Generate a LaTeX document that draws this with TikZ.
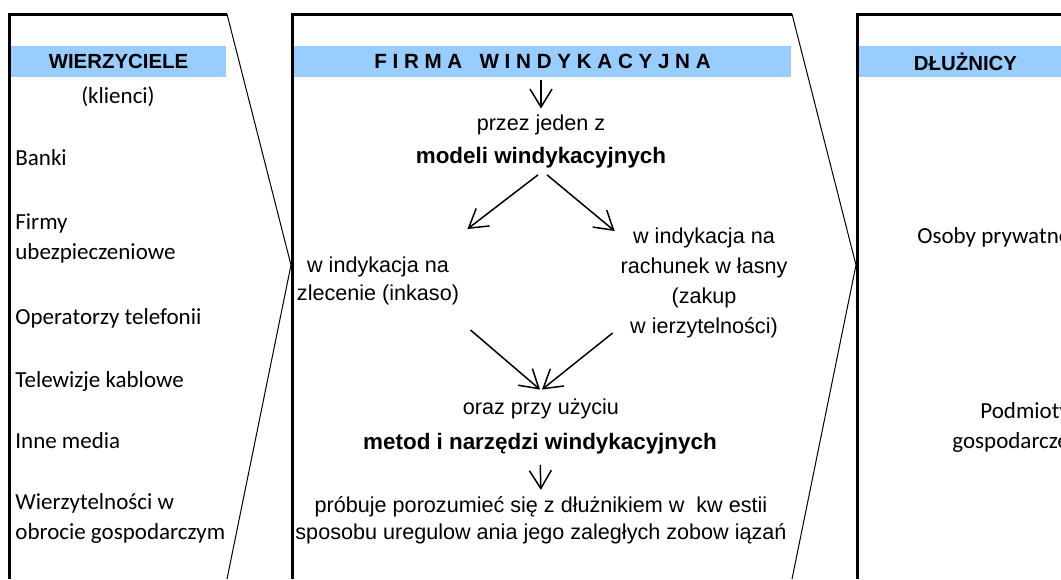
\documentclass[tikz,border=0pt]{standalone}
\usepackage{fontspec}
\setmainfont{Liberation Sans}
\newfontfamily\calibri{Carlito}
\usetikzlibrary{arrows.meta}
\definecolor{bandblue}{HTML}{99CCFF}

\tikzset{
  frame/.style={line width=1.5pt},
  chevron/.style={line width=0.5pt},
  band/.style={fill=bandblue, inner sep=0pt, minimum height=15.5pt, font=\fontsize{10.2}{12}\selectfont\bfseries},
  side/.style={anchor=west, inner sep=0pt, align=left, font=\calibri\fontsize{11.5}{15}\selectfont},
  txt/.style={inner sep=0pt, align=center, font=\fontsize{10.8}{14}\selectfont},
  boldtxt/.style={txt, font=\fontsize{11.2}{14}\selectfont\bfseries},
  arr/.style={-{Straight Barb[length=9pt,width=11pt]}, line width=0.75pt},
}

\begin{document}
\begin{tikzpicture}[x=0.5pt, y=-0.5pt]
\clip (0,0) rectangle (1061,579);

% frames and chevrons
\draw[frame] (9,579) -- (9,14) -- (227,14);
\draw[chevron] (227,14) -- (291,265) -- (227,579);
\draw[frame] (292,579) -- (292,14) -- (792,14);
\draw[chevron] (792,14) -- (856,265) -- (792,579);
\draw[frame] (857,579) -- (857,14) -- (1061,14);

% left column
\node[band, minimum width=107.5pt] (wierz) at (118.5,61.5) {WIERZYCIELE};
\node[side, anchor=center] (klienci) at (118,97) {(klienci)};
\node[side] (banki) at (15,158) {Banki};
\node[side] (firmy) at (15,238) {Firmy\\ubezpieczeniowe};
\node[side] (oper) at (15,318) {Operatorzy telefonii};
\node[side] (telew) at (15,381) {Telewizje kablowe};
\node[side] (inne) at (15,441) {Inne media};
\node[side] (wierzyt) at (15,518.5) {Wierzytelności w\\obrocie gospodarczym};

% middle column
\node[band, minimum width=248.5pt, font=\fontsize{10.3}{12}\selectfont\bfseries] (firma) at (542.5,61.5) {F I R M A\ \ \ W I N D Y K A C Y J N A};
\node[txt] (przez) at (541,125) {przez jeden z};
\node[boldtxt] (modeli) at (541,158) {modeli windykacyjnych};
\node[txt] (zlec) at (378,281) {w indykacja na\\zlecenie (inkaso)};
\node[txt, font=\fontsize{10.8}{15}\selectfont] (rach) at (704,283) {w indykacja na\\rachunek w łasny\\(zakup\\w ierzytelności)};
\node[txt] (oraz) at (541,409) {oraz przy użyciu};
\node[boldtxt] (metod) at (540,444) {metod i narzędzi windykacyjnych};
\node[txt, font=\fontsize{10.8}{13.5}\selectfont] (probuje) at (541,520) {próbuje porozumieć się z dłużnikiem w\ \ kw estii\\sposobu uregulow ania jego zaległych zobow iązań};

\path[arr, shorten <=1.5pt, shorten >=3pt] (przez |- firma.south) edge (przez.north);
\path[arr] ([xshift=-1.5pt,yshift=-3pt]modeli.south) edge ([xshift=4pt,yshift=13.75pt]zlec.north east);
\path[arr] ([xshift=3pt,yshift=-3pt]modeli.south) edge ([xshift=-2.75pt,yshift=-1.75pt]rach.north west);
\path[arr] ([xshift=5.5pt,yshift=-12.25pt]zlec.south east) edge ([xshift=-0.5pt,yshift=4.5pt]oraz.north);
\path[arr] ([xshift=-3.75pt,yshift=2.75pt]rach.south west) edge ([xshift=0.5pt,yshift=4.5pt]oraz.north);
\path[arr, shorten <=5pt, shorten >=3pt] (metod.south) edge (probuje.north);

% right column
\node[band, minimum width=106.5pt] (dluz) at (965.5,61.5) {DŁUŻNICY};
\node[side] (osoby) at (917,237) {Osoby prywatne};
\node[side] (podm) at (980,412) {Podmioty};
\node[side] (gosp) at (952,442) {gospodarcze};
\end{tikzpicture}
\end{document}
